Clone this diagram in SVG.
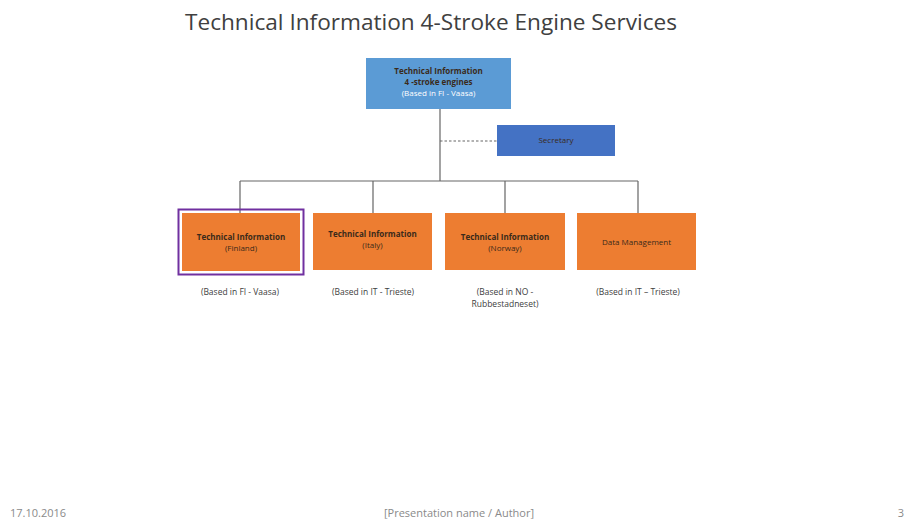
<svg xmlns="http://www.w3.org/2000/svg" width="908" height="522" viewBox="0 0 908 522">
<style>
text{font-family:"Open Sans","Liberation Sans",sans-serif;}
.t{font-size:22.5px;fill:#404040;}
.b{font-size:8px;font-weight:bold;fill:#3a2a1a;text-anchor:middle;}
.n{font-size:8px;fill:#3a2a1a;text-anchor:middle;}
.w{font-size:8px;fill:#ffffff;text-anchor:middle;}
.s{font-size:8.5px;fill:#404040;text-anchor:middle;}
.f{font-size:11px;fill:#8a8a8a;}
.or{fill:#ED7D31;}
.ln{stroke:#666666;stroke-width:1.2;fill:none;}
</style>
<rect width="908" height="522" fill="#ffffff"/>
<text class="t" x="185" y="30" textLength="492" lengthAdjust="spacingAndGlyphs">Technical Information 4-Stroke Engine Services</text>
<g id="connectors">
<path class="ln" d="M440 109 V181 M240 181 H638 M240 181 V213 M373 181 V213 M505 181 V213 M638 181 V213"/>
<path class="ln" d="M440 141 H497" stroke-dasharray="2.5 2"/>
</g>
<g id="top">
<rect x="366" y="58" width="145" height="51" fill="#5B9BD5"/>
<text class="b" x="438.5" y="74">Technical Information</text>
<text class="b" x="438.5" y="85">4 -stroke engines</text>
<text class="w" x="438.5" y="96">(Based in FI - Vaasa)</text>
</g>
<g id="secretary">
<rect x="497" y="125" width="118" height="31" fill="#4472C4"/>
<text class="n" x="556" y="143">Secretary</text>
</g>
<g id="finland">
<rect x="178.5" y="209.5" width="125" height="65" fill="none" stroke="#7030A0" stroke-width="2"/>
<rect class="or" x="182" y="213" width="118" height="58"/>
<text class="b" x="241" y="240">Technical Information</text>
<text class="n" x="241" y="251">(Finland)</text>
<text class="s" x="240" y="295">(Based in FI - Vaasa)</text>
</g>
<g id="italy">
<rect class="or" x="313" y="213" width="119" height="57"/>
<text class="b" x="372.5" y="237">Technical Information</text>
<text class="n" x="372.5" y="248">(Italy)</text>
<text class="s" x="373" y="295">(Based in IT - Trieste)</text>
</g>
<g id="norway">
<rect class="or" x="445" y="213" width="120" height="57"/>
<text class="b" x="505" y="240">Technical Information</text>
<text class="n" x="505" y="251">(Norway)</text>
<text class="s" x="505" y="295">(Based in NO -</text>
<text class="s" x="505" y="307">Rubbestadneset)</text>
</g>
<g id="data">
<rect class="or" x="577" y="213" width="119" height="57"/>
<text class="n" x="636.5" y="245">Data Management</text>
<text class="s" x="638" y="295">(Based in IT – Trieste)</text>
</g>
<g id="footer">
<text class="f" x="10" y="517">17.10.2016</text>
<text class="f" x="459" y="517" text-anchor="middle">[Presentation name / Author]</text>
<text class="f" x="904" y="517" text-anchor="end">3</text>
</g>
</svg>
